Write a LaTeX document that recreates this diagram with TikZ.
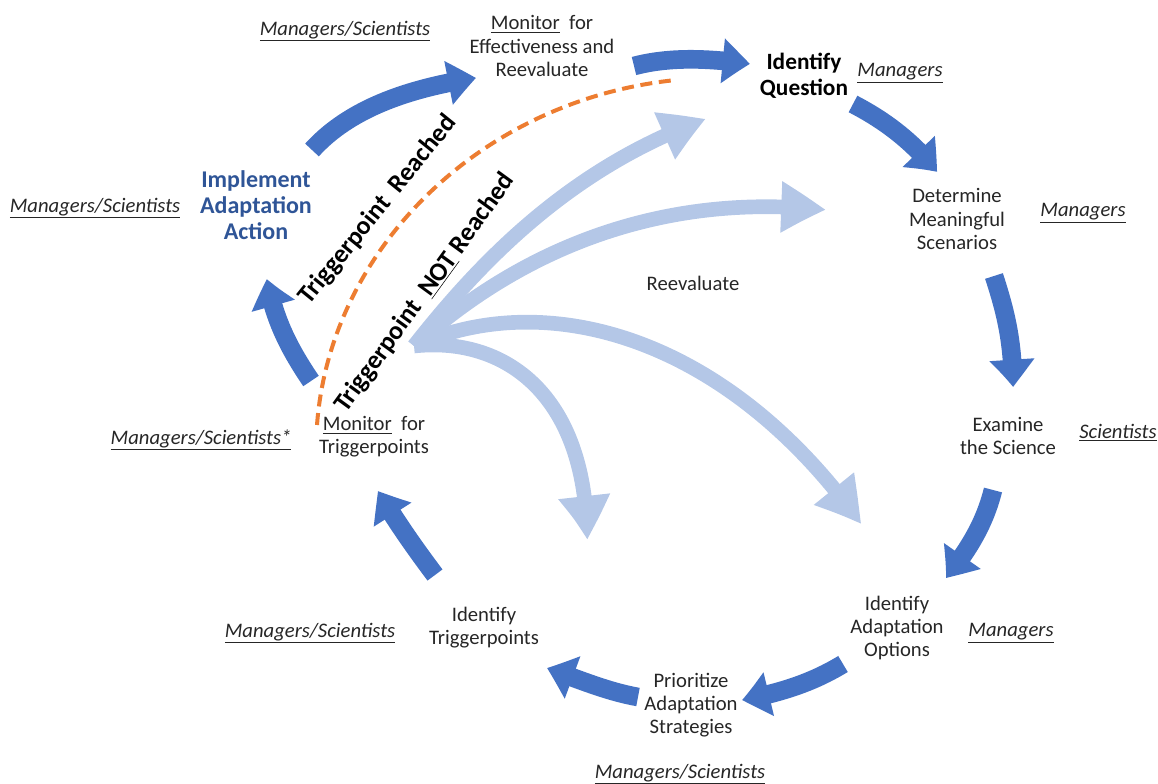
\documentclass[tikz,border=0pt]{standalone}
\usepackage{fontspec}
\setmainfont{Carlito}
\usetikzlibrary{arrows.meta,bending}
\definecolor{cycleblue}{RGB}{68,114,196}
\definecolor{backblue}{RGB}{180,199,231}
\definecolor{trigorange}{RGB}{237,125,49}
\definecolor{actblue}{RGB}{47,85,151}
\definecolor{txt}{RGB}{38,38,38}
\tikzset{
  stage/.style = {align=center, inner sep=0pt, text=txt, font=\fontsize{15.5}{17.3}\selectfont},
  who/.style = {inner sep=0pt, text=txt, font=\fontsize{15.5}{17.3}\selectfont\itshape},
  trig/.style = {inner sep=0pt, font=\fontsize{19.5}{22}\selectfont\bfseries},
  cycle/.style = {draw=cycleblue, line width=14pt, -{Triangle[width=32pt,length=21pt,bend]}},
  back/.style = {draw=backblue, line width=11pt, -{Triangle[width=36pt,length=34pt,bend]}},
}
\newcommand{\role}[1]{\underline{#1}}
\begin{document}
\begin{tikzpicture}[x=0.75pt, y=-0.75pt]
  \useasboundingbox (0,0) rectangle (1158,784);
  % stages of the cycle
  \node[stage] (effect) at (542,46) {\underline{Monitor}\ \ for\\Effectiveness and\\Reevaluate};
  \node[stage, font=\fontsize{17.5}{19.5}\selectfont\bfseries, text=black] (question) at (804,76) {Identify\\Question};
  \node[stage] (scenarios) at (957,219) {Determine\\Meaningful\\Scenarios};
  \node[stage] (science) at (1008,436) {Examine\\the Science};
  \node[stage] (options) at (897,628) {Identify\\Adaptation\\Options};
  \node[stage] (strategies) at (691,705) {Prioritize\\Adaptation\\Strategies};
  \node[stage] (triggers) at (484,628) {Identify\\Triggerpoints};
  \node[stage] (monitor) at (374,437) {\underline{Monitor}\ \ for\\Triggerpoints};
  \node[stage, font=\fontsize{18}{19.5}\selectfont\bfseries, text=actblue] (implement) at (256,205) {Implement\\Adaptation\\Action};
  \node[stage] (reeval) at (693,283) {Reevaluate};
  % who does it
  \node[who] (whoeffect) at (345,31) {\role{Managers/Scientists}};
  \node[who] (whoquestion) at (900,73) {\role{Managers}};
  \node[who] (whoscenarios) at (1083,213) {\role{Managers}};
  \node[who] (whoscience) at (1118,433) {\role{Scientists}};
  \node[who] (whooptions) at (1011,633) {\role{Managers}};
  \node[who] (whostrategies) at (680,774) {\role{Managers/Scientists}};
  \node[who] (whotriggers) at (310,633) {\role{Managers/Scientists}};
  \node[who] (whomonitor) at (201,440) {\role{Managers/Scientists*}};
  \node[who] (whoimplement) at (95,208) {\role{Managers/Scientists}};
  % triggerpoint labels
  \node[trig, rotate=51] (reached) at (378,210) {Triggerpoint\ \ Reached};
  \node[trig, rotate=54] (notreached) at (425,293) {Triggerpoint\ \ \underline{NOT}\ Reached};

  % arrow ends
  \coordinate (c1s) at (312,150); \coordinate (c1e) at (476,78);
  \coordinate (c2s) at (634,66);  \coordinate (c2e) at (750,64);
  \coordinate (c3s) at (853,104); \coordinate (c3e) at (937,172);
  \coordinate (c4s) at (994,276); \coordinate (c4e) at (1013,387);
  \coordinate (c5s) at (993,490); \coordinate (c5e) at (946,578);
  \coordinate (c6s) at (843,664); \coordinate (c6e) at (742,700);
  \coordinate (c7s) at (638,697); \coordinate (c7e) at (547,668);
  \coordinate (c8s) at (435,575); \coordinate (c8e) at (378,491);
  \coordinate (c9s) at (311,381); \coordinate (c9e) at (267,279);
  \coordinate (hub) at (414,346);
  \coordinate (b1e) at (706,119); \coordinate (b2e) at (826,210);
  \coordinate (b3e) at (861,524); \coordinate (b4e) at (587,540);
  \coordinate (tpstart) at (317,425); \coordinate (tpend) at (676,80);

  % reevaluate arrows
  \draw[back] (hub) .. controls (480,262) and (570,168) .. (b1e);
  \draw[back] (hub) .. controls (520,250) and (660,192) .. (b2e);
  \draw[back] (hub) .. controls (550,285) and (730,340) .. (b3e);
  \draw[back] (hub) .. controls (505,336) and (587,395) .. (b4e);

  % triggerpoint reached
  \draw[trigorange, line width=3pt, dash pattern=on 9pt off 5pt]
    (tpstart) .. controls (330,250) and (480,100) .. (tpend);

  % main cycle
  \draw[cycle] (c1s) .. controls (350,108) and (410,88) .. (c1e);
  \draw[cycle] (c2s) .. controls (665,58) and (700,57) .. (c2e);
  \draw[cycle] (c3s) .. controls (880,118) and (910,138) .. (c3e);
  \draw[cycle] (c4s) .. controls (1005,310) and (1013,340) .. (c4e);
  \draw[cycle] (c5s) .. controls (985,522) and (970,548) .. (c5e);
  \draw[cycle] (c6s) .. controls (815,681) and (785,692) .. (c6e);
  \draw[cycle] (c7s) .. controls (610,692) and (585,682) .. (c7e);
  \draw[cycle] (c8s) .. controls (420,555) and (398,525) .. (c8e);
  \draw[cycle] (c9s) .. controls (290,350) and (274,320) .. (c9e);
\end{tikzpicture}
\end{document}
